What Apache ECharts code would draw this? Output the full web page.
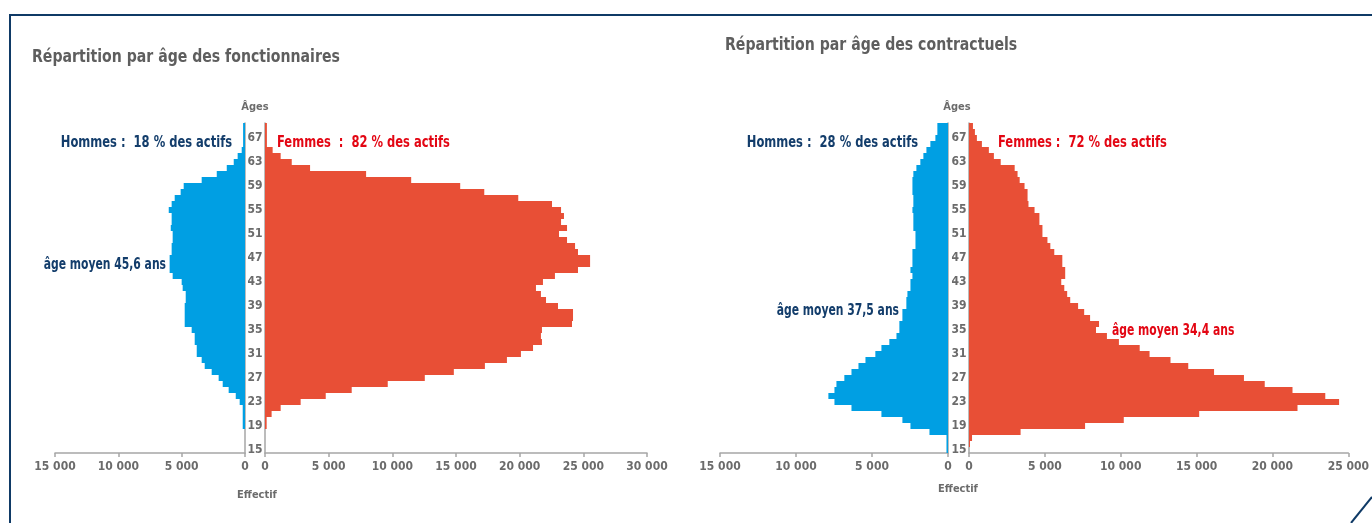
<!DOCTYPE html>
<html>
<head>
<meta charset="utf-8">
<title>Répartition par âge</title>
<script src="https://cdn.jsdelivr.net/npm/echarts@6/dist/echarts.min.js"></script>
<style>
  html, body { margin: 0; padding: 0; background: #fff; }
  #main { width: 1372px; height: 523px; }
</style>
</head>
<body>
<div id="main"></div>
<script type="text/javascript">
// ages 15 -> 69
var ages = [];
for (var a = 15; a <= 69; a++) ages.push(String(a));

// fonctionnaires
var fonctHommes = [0, 0, 0, 0, 180, 180, 180, 180, 420, 730, 1290, 1760, 2080, 2630, 3180, 3420, 3810, 3810, 3970, 3970,
  4210, 4760, 4760, 4760, 4760, 4680, 4680, 4920, 5000, 5710, 5950, 5950, 5950, 5790, 5790, 5710, 5710, 5860, 5790, 5790,
  6020, 5790, 5550, 5080, 4840, 3420, 2230, 1440, 890, 580, 260, 150, 150, 150, 150];
var fonctFemmes = [0, 0, 0, 0, 130, 130, 520, 1230, 2800, 4770, 6810, 9640, 12550, 14830, 17270, 19000, 20100, 21050, 21750, 21670,
  21750, 24110, 24190, 24190, 23010, 22070, 21670, 21280, 21830, 22770, 24580, 25530, 25530, 24580, 24350, 23720, 23090, 23720, 23250, 23480,
  23250, 22540, 19890, 17220, 15330, 11480, 7940, 3540, 2100, 1230, 600, 150, 150, 150, 150];

// contractuels
var contrHommes = [100, 100, 100, 1220, 2470, 3000, 4380, 6350, 7470, 7870, 7470, 7340, 6820, 6350, 5890, 5430, 4780, 4380, 3860, 3390,
  3200, 3200, 3000, 3000, 2740, 2740, 2670, 2470, 2470, 2340, 2470, 2340, 2340, 2340, 2140, 2140, 2140, 2280, 2280, 2280,
  2340, 2280, 2280, 2340, 2340, 2340, 2280, 2080, 1820, 1620, 1420, 1160, 830, 700, 700];
var contrFemmes = [0, 65, 200, 3400, 7650, 10200, 15170, 21650, 24390, 23480, 21320, 19490, 18120, 16150, 14450, 13280, 11900, 11250, 9880, 9090,
  8370, 8570, 7980, 7590, 7190, 6670, 6470, 6280, 6080, 6340, 6340, 6150, 6150, 5620, 5360, 5170, 4840, 4840, 4640, 4640,
  4320, 3920, 3860, 3860, 3660, 3340, 3200, 3010, 2090, 1640, 1310, 850, 520, 390, 260];

var F = "'Liberation Sans Narrow', 'DejaVu Sans Condensed', 'Roboto', sans-serif";
var BLUE = '#009fe3', RED = '#e84f36', NAVY = '#133d6b', TXTRED = '#e30613', GREY = '#6b6b6b', AXIS = '#a6a6a6';

function fmt(v) {
  return String(v).replace(/\B(?=(\d{3})+(?!\d))/g, ' ');
}

function xAx(idx, max, inverse) {
  return {
    type: 'value', gridIndex: idx, min: 0, max: max, interval: 5000, inverse: inverse,
    axisLine: { show: true, lineStyle: { color: AXIS, width: 1.5 } },
    axisTick: { show: true, length: 4, lineStyle: { color: AXIS, width: 1.5 } },
    splitLine: { show: false },
    axisLabel: { formatter: fmt, color: GREY, fontFamily: F, fontWeight: 'bold', fontSize: 12, margin: 8 }
  };
}
function yAx(idx, pos, showLabel) {
  return {
    type: 'category', gridIndex: idx, data: ages, position: pos,
    axisLine: { show: true, onZero: false, lineStyle: { color: AXIS, width: 1.5 } },
    axisTick: { show: false },
    axisLabel: { show: showLabel, interval: 3, margin: 10, align: 'center', color: GREY, fontFamily: F, fontWeight: 'bold', fontSize: 12 }
  };
}
function bar(idx, data, color) {
  return { type: 'bar', xAxisIndex: idx, yAxisIndex: idx, data: data, barWidth: '100%', itemStyle: { color: color }, silent: true };
}
// condensed look: text squeezed horizontally around its anchor
function txt(x, y, s, color, size, align, sx) {
  return {
    type: 'text', x: x, y: y, scaleX: sx || 1, silent: true,
    style: { text: s, fill: color, fontFamily: F, fontWeight: 'bold', fontSize: size,
      textAlign: align || 'left', textVerticalAlign: 'middle', align: align || 'left', verticalAlign: 'middle' }
  };
}

var myChart = echarts.init(document.getElementById('main'));
myChart.setOption({
  animation: false,
  grid: [
    { left: 55, top: 123, width: 190, height: 330 },
    { left: 265, top: 123, width: 382, height: 330 },
    { left: 720, top: 123, width: 228, height: 330 },
    { left: 969, top: 123, width: 382, height: 330 }
  ],
  xAxis: [xAx(0, 15000, true), xAx(1, 30000, false), xAx(2, 15000, true), xAx(3, 25000, false)],
  yAxis: [yAx(0, 'right', false), yAx(1, 'left', true), yAx(2, 'right', false), yAx(3, 'left', true)],
  series: [bar(0, fonctHommes, BLUE), bar(1, fonctFemmes, RED), bar(2, contrHommes, BLUE), bar(3, contrFemmes, RED)],
  graphic: [
    { type: 'line', silent: true, shape: { x1: 10, y1: 15, x2: 1372, y2: 15 }, style: { stroke: '#0f3a66', lineWidth: 2 } },
    { type: 'line', silent: true, shape: { x1: 10, y1: 14, x2: 10, y2: 523 }, style: { stroke: '#0f3a66', lineWidth: 2 } },
    { type: 'line', silent: true, shape: { x1: 1351, y1: 523, x2: 1372, y2: 497 }, style: { stroke: '#0f3a66', lineWidth: 2 } },
    txt(32, 57, 'Répartition par âge des fonctionnaires', '#5e5e5e', 18, 'left', 0.87),
    txt(725, 45, 'Répartition par âge des contractuels', '#5e5e5e', 18, 'left', 0.87),
    txt(255, 107, 'Âges', GREY, 11, 'center'),
    txt(957, 107, 'Âges', GREY, 11, 'center'),
    txt(257, 495, 'Effectif', GREY, 11, 'center'),
    txt(958, 489, 'Effectif', GREY, 11, 'center'),
    txt(232, 143, 'Hommes :  18 % des actifs', NAVY, 16, 'right', 0.8),
    txt(277, 143, 'Femmes  :  82 % des actifs', TXTRED, 16, 'left', 0.8),
    txt(166, 265, 'âge moyen 45,6 ans', NAVY, 15, 'right', 0.8),
    txt(283, 274, 'âge moyen 44 ans', '#ffffff', 15, 'left', 0.8),
    txt(918, 143, 'Hommes :  28 % des actifs', NAVY, 16, 'right', 0.8),
    txt(998, 143, 'Femmes :  72 % des actifs', TXTRED, 16, 'left', 0.8),
    txt(899, 311, 'âge moyen 37,5 ans', NAVY, 15, 'right', 0.8),
    txt(1112, 331, 'âge moyen 34,4 ans', TXTRED, 15, 'left', 0.8)
  ]
});
</script>
</body>
</html>
